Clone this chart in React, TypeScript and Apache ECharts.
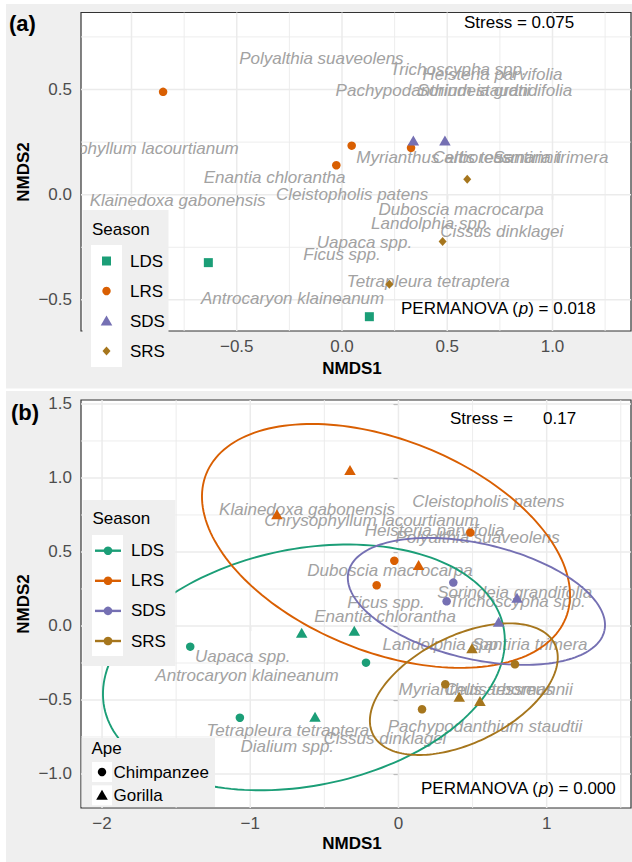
import React, { useEffect, useRef } from "react";
import * as echarts from "echarts";

const FONT = '"Liberation Sans", Arial, Helvetica, sans-serif';
const BG = "#EFEFEF";
const GRID = "#EBEBEB";
const LABEL = "#A2A2A2";
const TICK_TXT = "#4D4D4D";
const BORDER = "#333333";

const seasons = ["LDS", "LRS", "SDS", "SRS"];
const seasonColors = ["#1B9E77", "#D95F02", "#7570B3", "#A6761D"];
const apes = ["Chimpanzee", "Gorilla"];

// ---------- Panel (a) ----------
const aLDS = [[-0.635, -0.323], [0.13, -0.58]];
const aLRS = [[-0.85, 0.489], [0.046, 0.233], [-0.027, 0.14], [0.328, 0.223]];
const aSDS = [[0.339, 0.257], [0.489, 0.257]];
const aSRS = [[0.595, 0.073], [0.478, -0.223], [0.225, -0.426]];

const aSpeciesNames = [
  "Polyalthia suaveolens", "Trichoscypha spp.", "Heisteria parvifolia",
  "Pachypodanthium staudtii", "Sorindeia grandifolia", "Chrysophyllum lacourtianum",
  "Enantia chlorantha", "Klainedoxa gabonensis", "Cleistopholis patens",
  "Myrianthus arboreus", "Celtis tessmannii", "Santiria trimera",
  "Duboscia macrocarpa", "Landolphia spp.", "Cissus dinklagei",
  "Uapaca spp.", "Ficus spp.", "Tetrapleura tetraptera", "Antrocaryon klaineanum",
];
const aSpeciesX = [-0.098, 0.553, 0.715, 0.432, 0.726, -1.0, -0.32, -0.781, 0.048, 0.436, 0.735, 0.992, 0.566, 0.423, 0.759, 0.107, 0.0, 0.41, -0.235];
const aSpeciesY = [0.648, 0.597, 0.573, 0.495, 0.495, 0.22, 0.083, -0.03, 0.0, 0.178, 0.178, 0.178, -0.069, -0.136, -0.176, -0.228, -0.282, -0.413, -0.495];

const aXRange = [-1.24, 1.373];
const aYRange = [-0.648, 0.866];
const aXTicks = [-0.5, 0, 0.5, 1];
const aYTicks = [-0.5, 0, 0.5];
const aXGridMajor = [-1, -0.5, 0, 0.5, 1];
const aXGridMinor = [-0.75, -0.25, 0.25, 0.75, 1.25];
const aYGridMajor = [-0.5, 0, 0.5];
const aYGridMinor = [-0.25, 0.25, 0.75];

// ---------- Panel (b) ----------
const bLDSChimp = [[-1.405, -0.14], [-1.07, -0.62], [-0.219, -0.248]];
const bLDSGor = [[-0.653, -0.045], [-0.298, -0.032], [-0.563, -0.613]];
const bLRSChimp = [[0.485, 0.631], [-0.028, 0.441], [-0.147, 0.275]];
const bLRSGor = [[-0.327, 1.054], [-0.82, 0.755], [0.136, 0.412]];
const bSDSChimp = [[0.37, 0.293], [0.325, 0.167]];
const bSDSGor = [[0.8, 0.191], [0.676, 0.029]];
const bSRSChimp = [[0.786, -0.259], [0.316, -0.394], [0.159, -0.563]];
const bSRSGor = [[0.496, -0.151], [0.41, -0.478], [0.55, -0.507]];

const bSpeciesNames = [
  "Klainedoxa gabonensis", "Chrysophyllum lacourtianum", "Cleistopholis patens",
  "Heisteria parvifolia", "Polyalthia suaveolens", "Duboscia macrocarpa",
  "Sorindeia grandifolia", "Trichoscypha spp.", "Ficus spp.", "Enantia chlorantha",
  "Landolphia spp.", "Santiria trimera", "Uapaca spp.", "Antrocaryon klaineanum",
  "Myrianthus arboreus", "Celtis tessmannii", "Pachypodanthium staudtii",
  "Tetrapleura tetraptera", "Cissus dinklagei", "Dialium spp.",
];
const bSpeciesX = [-0.617, -0.182, 0.607, 0.244, 0.534, -0.057, 0.784, 0.802, -0.084, -0.09, 0.298, 0.887, -1.051, -1.022, 0.523, 0.742, 0.584, -0.746, -0.091, -0.75];
const bSpeciesY = [0.789, 0.716, 0.84, 0.642, 0.597, 0.374, 0.228, 0.164, 0.162, 0.063, -0.122, -0.122, -0.207, -0.338, -0.432, -0.432, -0.676, -0.703, -0.759, -0.816];

// confidence ellipses: centre, semi-axes, rotation (degrees)
const ellCx = [-0.638, -0.084, 0.526, 0.441];
const ellCy = [-0.28, 0.541, 0.166, -0.427];
const ellA = [1.374, 1.307, 0.886, 0.685];
const ellB = [0.8, 0.716, 0.39, 0.361];
const ellAngle = [11.5, -21.9, -13.0, 26.5];

const bXRange = [-2.142, 1.569];
const bYRange = [-1.23, 1.527];
const bXTicks = [-2, -1, 0, 1];
const bYTicks = [-1, -0.5, 0, 0.5, 1, 1.5];
const bXGridMajor = [-2, -1, 0, 1];
const bXGridMinor = [-1.5, -0.5, 0.5, 1.5];
const bYGridMajor = [-1, -0.5, 0, 0.5, 1, 1.5];
const bYGridMinor = [-0.75, -0.25, 0.25, 0.75, 1.25];

const fmt1 = (v: number) => (v < 0 ? "\u2212" : "") + Math.abs(v).toFixed(1);
const fmt0 = (v: number) => (v < 0 ? "\u2212" : "") + Math.abs(v).toFixed(0);

function gridSeries(idx: number, xr: number[], yr: number[], xMaj: number[], xMin: number[], yMaj: number[], yMin: number[]) {
  const data: number[][] = [];
  xMaj.forEach((v) => data.push([v, 0]));
  xMin.forEach((v) => data.push([v, 1]));
  yMaj.forEach((v) => data.push([v, 2]));
  yMin.forEach((v) => data.push([v, 3]));
  return {
    type: "custom",
    xAxisIndex: idx,
    yAxisIndex: idx,
    silent: true,
    z: 1,
    encode: { x: -1, y: -1 },
    data,
    renderItem: (_p: any, api: any) => {
      const v = api.value(0);
      const k = api.value(1);
      let p1, p2;
      if (k < 2) {
        p1 = api.coord([v, yr[0]]);
        p2 = api.coord([v, yr[1]]);
      } else {
        p1 = api.coord([xr[0], v]);
        p2 = api.coord([xr[1], v]);
      }
      return {
        type: "line",
        shape: { x1: p1[0], y1: p1[1], x2: p2[0], y2: p2[1] },
        style: { stroke: GRID, lineWidth: k % 2 === 0 ? 1.5 : 0.9 },
      };
    },
  };
}

function labelSeries(idx: number, names: string[], xs: number[], ys: number[]) {
  return {
    type: "custom",
    xAxisIndex: idx,
    yAxisIndex: idx,
    silent: true,
    clip: true,
    z: 2,
    data: xs.map((x, i) => [x, ys[i], i]),
    renderItem: (_p: any, api: any) => {
      const p = api.coord([api.value(0), api.value(1)]);
      const i = api.value(2);
      return {
        type: "text",
        x: p[0],
        y: p[1],
        style: {
          text: names[i],
          fill: LABEL,
          fontSize: 17,
          fontStyle: "italic",
          fontFamily: FONT,
          align: "center",
          verticalAlign: "middle",
          textAlign: "center",
          textVerticalAlign: "middle",
        },
      };
    },
  };
}

function ellipseSeries() {
  return {
    type: "custom",
    xAxisIndex: 1,
    yAxisIndex: 1,
    silent: true,
    z: 3,
    encode: { x: 0, y: 1 },
    data: ellCx.map((cx, i) => [cx, ellCy[i], i]),
    renderItem: (_p: any, api: any) => {
      const i = api.value(2);
      const th = (ellAngle[i] * Math.PI) / 180;
      const pts: number[][] = [];
      for (let k = 0; k <= 180; k++) {
        const t = (k / 180) * Math.PI * 2;
        const X = ellA[i] * Math.cos(t);
        const Y = ellB[i] * Math.sin(t);
        pts.push(api.coord([ellCx[i] + X * Math.cos(th) - Y * Math.sin(th), ellCy[i] + X * Math.sin(th) + Y * Math.cos(th)]));
      }
      return {
        type: "polyline",
        shape: { points: pts },
        style: { fill: "none", stroke: seasonColors[i], lineWidth: 1.9 },
      };
    },
  };
}

function pts(idx: number, name: string, data: number[][], color: string, symbol: string, size: any) {
  return {
    type: "scatter",
    name,
    xAxisIndex: idx,
    yAxisIndex: idx,
    data,
    symbol,
    symbolSize: size,
    itemStyle: { color, opacity: 1 },
    z: 5,
    clip: false,
    silent: true,
  };
}

function axisX(idx: number, r: number[], ticks: number[], f: (v: number) => string) {
  return {
    type: "value",
    gridIndex: idx,
    min: r[0],
    max: r[1],
    splitLine: { show: false },
    axisLine: { show: false },
    axisTick: { show: true, customValues: ticks, length: 5, lineStyle: { color: BORDER, width: 1.1 } },
    axisLabel: { customValues: ticks, formatter: f, color: TICK_TXT, fontSize: 17, fontFamily: FONT, margin: 7 },
  };
}
function axisY(idx: number, r: number[], ticks: number[]) {
  return {
    type: "value",
    gridIndex: idx,
    min: r[0],
    max: r[1],
    splitLine: { show: false },
    axisLine: { show: false },
    axisTick: { show: true, customValues: ticks, length: 5, lineStyle: { color: BORDER, width: 1.1 } },
    axisLabel: { customValues: ticks, formatter: fmt1, color: TICK_TXT, fontSize: 17, fontFamily: FONT, margin: 9 },
  };
}

const txt = (x: number, y: number, text: string, extra: any = {}, z = 50) => ({
  type: "text",
  x,
  y,
  z,
  style: {
    text,
    fill: "#000",
    fontSize: 17,
    fontFamily: FONT,
    textAlign: "left",
    textVerticalAlign: "middle",
    align: "left",
    verticalAlign: "middle",
    ...extra,
  },
});

function symbolEl(kind: string, cx: number, cy: number, color: string, z = 101) {
  if (kind === "rect") return { type: "rect", z, shape: { x: cx - 4.5, y: cy - 4.5, width: 9, height: 9 }, style: { fill: color } };
  if (kind === "circle") return { type: "circle", z, shape: { cx, cy, r: 4.2 }, style: { fill: color } };
  if (kind === "triangle") return { type: "polygon", z, shape: { points: [[cx, cy - 5.5], [cx + 5.8, cy + 4.5], [cx - 5.8, cy + 4.5]] }, style: { fill: color } };
  return { type: "polygon", z, shape: { points: [[cx, cy - 4.5], [cx + 4, cy], [cx, cy + 4.5], [cx - 4, cy]] }, style: { fill: color } };
}

const aShapes = ["rect", "circle", "triangle", "diamond"];

function buildGraphics() {
  const g: any[] = [];
  // white gaps around the grey panels
  g.push({ type: "rect", z: -10, shape: { x: 0, y: 0, width: 632, height: 4 }, style: { fill: "#fff" } });
  g.push({ type: "rect", z: -10, shape: { x: 0, y: 0, width: 6, height: 862 }, style: { fill: "#fff" } });
  g.push({ type: "rect", z: -10, shape: { x: 0, y: 388.5, width: 632, height: 2.5 }, style: { fill: "#fff" } });

  g.push(txt(9, 23, "(a)", { fontSize: 22, fontWeight: "bold" }));
  g.push(txt(11, 412, "(b)", { fontSize: 22, fontWeight: "bold" }));

  // axis titles
  g.push({ ...txt(23, 172, "NMDS2", { fontWeight: "bold", textAlign: "center", align: "center" }), rotation: Math.PI / 2 });
  g.push({ ...txt(23, 604, "NMDS2", { fontWeight: "bold", textAlign: "center", align: "center" }), rotation: Math.PI / 2 });
  g.push(txt(352, 368, "NMDS1", { fontWeight: "bold", textAlign: "center", align: "center" }));
  g.push(txt(352, 843, "NMDS1", { fontWeight: "bold", textAlign: "center", align: "center" }));

  // annotations
  g.push(txt(464, 22, "Stress = 0.075"));
  g.push(txt(450, 418.5, "Stress ="));
  g.push(txt(543, 418.5, "0.17"));
  const rich = { i: { fontStyle: "italic", fontSize: 17, fontFamily: FONT, fill: "#000" } };
  g.push(txt(401, 308.5, "PERMANOVA ({i|p}) = 0.018", { rich }));
  g.push(txt(421, 788.5, "PERMANOVA ({i|p}) = 0.000", { rich }));

  // legend panel (a)
  g.push({ type: "rect", z: 100, shape: { x: 82.5, y: 210, width: 86, height: 162 }, style: { fill: BG } });
  g.push({ type: "rect", z: 100, shape: { x: 91, y: 245, width: 31, height: 122 }, style: { fill: "#fff" } });
  g.push(txt(92, 229.5, "Season", {}, 101));
  seasons.forEach((s, i) => {
    const y = 261 + i * 30;
    g.push(symbolEl(aShapes[i], 106.5, y, seasonColors[i]));
    g.push(txt(130, y, s, {}, 101));
  });

  // legend panel (b): season
  g.push({ type: "rect", z: 100, shape: { x: 82.5, y: 500, width: 93, height: 166 }, style: { fill: BG } });
  g.push({ type: "rect", z: 100, shape: { x: 92, y: 535, width: 31, height: 121 }, style: { fill: "#fff" } });
  g.push(txt(92.5, 518.5, "Season", {}, 101));
  seasons.forEach((s, i) => {
    const y = 550.7 + i * 30.1;
    g.push({ type: "line", z: 101, shape: { x1: 95, y1: y, x2: 121, y2: y }, style: { stroke: seasonColors[i], lineWidth: 2.4 } });
    g.push({ type: "circle", z: 102, shape: { cx: 108, cy: y, r: 4.3 }, style: { fill: seasonColors[i] } });
    g.push(txt(131, y, s, {}, 101));
  });

  // legend panel (b): ape
  g.push({ type: "rect", z: 100, shape: { x: 81.5, y: 738, width: 133.5, height: 69 }, style: { fill: BG } });
  g.push(txt(91.5, 748.5, "Ape", {}, 101));
  apes.forEach((a, i) => {
    const y = 772 + i * 23.3;
    g.push({ type: "rect", z: 100, shape: { x: 92, y: y - 10, width: 20, height: 20 }, style: { fill: "#fff" } });
    g.push(symbolEl(i === 0 ? "circle" : "triangle", 102, y, "#000"));
    g.push(txt(113.5, y, a, {}, 101));
  });
  return g;
}

export default function App() {
  const ref = useRef<HTMLDivElement>(null);
  useEffect(() => {
    if (!ref.current) return;
    const chart = echarts.init(ref.current, null, { renderer: "svg" });
    const option: any = {
      animation: false,
      backgroundColor: BG,
      textStyle: { fontFamily: FONT },
      grid: [
        { left: 81, top: 12.5, width: 550, height: 318.5, show: true, backgroundColor: "#fff", borderColor: BORDER, borderWidth: 1.2, z: 0 },
        { left: 81, top: 400, width: 550, height: 408, show: true, backgroundColor: "#fff", borderColor: BORDER, borderWidth: 1.2, z: 0 },
      ],
      xAxis: [axisX(0, aXRange, aXTicks, fmt1), axisX(1, bXRange, bXTicks, fmt0)],
      yAxis: [axisY(0, aYRange, aYTicks), axisY(1, bYRange, bYTicks)],
      series: [
        gridSeries(0, aXRange, aYRange, aXGridMajor, aXGridMinor, aYGridMajor, aYGridMinor),
        gridSeries(1, bXRange, bYRange, bXGridMajor, bXGridMinor, bYGridMajor, bYGridMinor),
        labelSeries(0, aSpeciesNames, aSpeciesX, aSpeciesY),
        labelSeries(1, bSpeciesNames, bSpeciesX, bSpeciesY),
        ellipseSeries(),
        pts(0, "LDS", aLDS, seasonColors[0], "rect", 9),
        pts(0, "LRS", aLRS, seasonColors[1], "circle", 8.5),
        pts(0, "SDS", aSDS, seasonColors[2], "triangle", [11.5, 10]),
        pts(0, "SRS", aSRS, seasonColors[3], "diamond", [8, 9]),
        pts(1, "LDS Chimpanzee", bLDSChimp, seasonColors[0], "circle", 8.5),
        pts(1, "LDS Gorilla", bLDSGor, seasonColors[0], "triangle", [11.5, 10]),
        pts(1, "LRS Chimpanzee", bLRSChimp, seasonColors[1], "circle", 8.5),
        pts(1, "LRS Gorilla", bLRSGor, seasonColors[1], "triangle", [11.5, 10]),
        pts(1, "SDS Chimpanzee", bSDSChimp, seasonColors[2], "circle", 8.5),
        pts(1, "SDS Gorilla", bSDSGor, seasonColors[2], "triangle", [11.5, 10]),
        pts(1, "SRS Chimpanzee", bSRSChimp, seasonColors[3], "circle", 8.5),
        pts(1, "SRS Gorilla", bSRSGor, seasonColors[3], "triangle", [11.5, 10]),
      ],
      graphic: { elements: buildGraphics() },
    };
    chart.setOption(option);
    return () => chart.dispose();
  }, []);
  return <div ref={ref} style={{ position: "fixed", left: 0, top: 0, width: 632, height: 862 }} />;
}
